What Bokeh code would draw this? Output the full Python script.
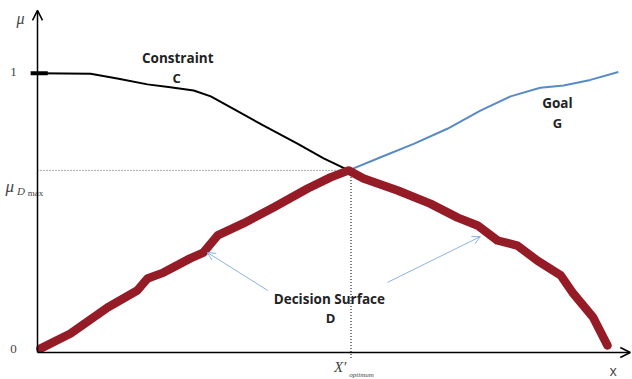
from bokeh.plotting import figure
from bokeh.models import Range1d, Arrow, OpenHead
from bokeh.core.properties import value
from bokeh.embed import file_html
from bokeh.resources import INLINE

# Constraint C (membership vs x)
c_x = [0.0, 0.93, 1.40, 1.93, 2.33, 2.74, 3.04, 3.39, 3.96, 4.56, 5.02, 5.46]
c_mu = [1.0, 0.998, 0.981, 0.960, 0.950, 0.938, 0.917, 0.878, 0.813, 0.748, 0.695, 0.652]

# Goal G
g_x = [5.46, 6.02, 6.60, 7.19, 7.77, 8.30, 8.82, 9.23, 9.70, 10.19]
g_mu = [0.652, 0.699, 0.747, 0.801, 0.866, 0.917, 0.948, 0.956, 0.976, 1.004]

# Decision surface D
d_x = [0.05, 0.58, 1.23, 1.75, 1.93, 2.21, 2.68, 2.91, 3.16, 3.61, 4.14, 4.74, 5.14, 5.46,
       5.72, 6.32, 6.89, 7.37, 7.72, 8.07, 8.42, 8.77, 9.18, 9.40, 9.75, 10.0]
d_mu = [0.014, 0.068, 0.161, 0.222, 0.265, 0.286, 0.337, 0.358, 0.419, 0.462, 0.519, 0.587, 0.627, 0.652,
        0.623, 0.580, 0.533, 0.483, 0.455, 0.401, 0.383, 0.329, 0.276, 0.211, 0.125, 0.025]

x_optimum = 5.50
mu_dmax = 0.652

sx, sy = 57.0, 279.3
W, H = 632, 379
x0_px, y0_px = 37, 352

p = figure(width=W, height=H, output_backend="svg", toolbar_location=None,
           x_range=Range1d(-x0_px / sx, (W - x0_px) / sx),
           y_range=Range1d(-(H - y0_px) / sy, y0_px / sy),
           x_axis_type=None, y_axis_type=None, min_border=0)
p.grid.visible = False
p.outline_line_color = None
p.background_fill_color = "white"
p.border_fill_color = "white"

# guide lines
p.line([0, x_optimum], [mu_dmax, mu_dmax], line_color="#555555", line_dash="1 2", line_width=1)
p.line([x_optimum, x_optimum], [-0.02, mu_dmax], line_color="#555555", line_dash="1 2", line_width=1.5)

# axes with arrows
p.add_layout(Arrow(end=OpenHead(size=10, line_width=1.5, line_color="black"),
                   x_start=0, y_start=0, x_end=0, y_end=1.225, line_width=1.5, line_color="black"))
p.add_layout(Arrow(end=OpenHead(size=10, line_width=1.5, line_color="black"),
                   x_start=0, y_start=0, x_end=10.40, y_end=0, line_width=1.5, line_color="black"))
# tick mark at mu = 1
p.line([-0.12, 0.18], [1.0, 1.0], line_color="black", line_width=4)

# curves
p.line(c_x, c_mu, line_color="black", line_width=2)
p.line(g_x, g_mu, line_color="#5a8ac6", line_width=2)
p.line(d_x, d_mu, line_color="#951b26", line_width=8.5, line_join="round", line_cap="round")

# pointer arrows
p.add_layout(Arrow(end=OpenHead(size=8, line_width=1, line_color="#8db3e2"),
                   x_start=4.04, y_start=0.222, x_end=2.98, y_end=0.358,
                   line_width=1, line_color="#8db3e2"))
p.add_layout(Arrow(end=OpenHead(size=8, line_width=1, line_color="#8db3e2"),
                   x_start=6.14, y_start=0.251, x_end=7.77, y_end=0.415,
                   line_width=1, line_color="#8db3e2"))

sans = value("Open Sans")
serif = value("Liberation Serif")

def label(x, y, t, size, font=sans, style="bold", align="center", color="#222222"):
    p.text(x=[x], y=[y], text=[t], text_font=font, text_font_size=size,
           text_font_style=style, text_align=align, text_baseline="middle", text_color=color)

label(2.46, 1.056, "Constraint", "13.5px")
label(2.44, 0.983, "C", "13px")
label(9.12, 0.892, "Goal", "13.5px")
label(9.12, 0.820, "G", "13px")
label(5.12, 0.193, "Decision Surface", "13.5px")
label(5.14, 0.122, "D", "13px")

label(-0.30, 1.196, "μ", "16px", font=serif, style="italic", color="#444444")
label(-0.42, 1.003, "1", "13px", font=serif, style="normal", color="#444444")
label(-0.42, 0.011, "0", "13px", font=serif, style="normal", color="#444444")
label(10.10, -0.064, "x", "14px", font=sans, style="normal", color="#444444")

# mu_Dmax label
label(-0.56, 0.593, "μ", "17px", font=serif, style="italic", align="left", color="#444444")
label(-0.36, 0.580, "D", "11px", font=serif, style="italic", align="left", color="#444444")
label(-0.17, 0.570, "max", "9px", font=serif, style="normal", align="left", color="#444444")

# X'optimum label
label(5.20, -0.053, "X\u2032", "15px", font=serif, style="italic", align="left", color="#444444")
label(5.47, -0.080, "optimum", "7px", font=serif, style="italic", align="left", color="#444444")

open("out.html", "w").write(file_html(p, INLINE))
